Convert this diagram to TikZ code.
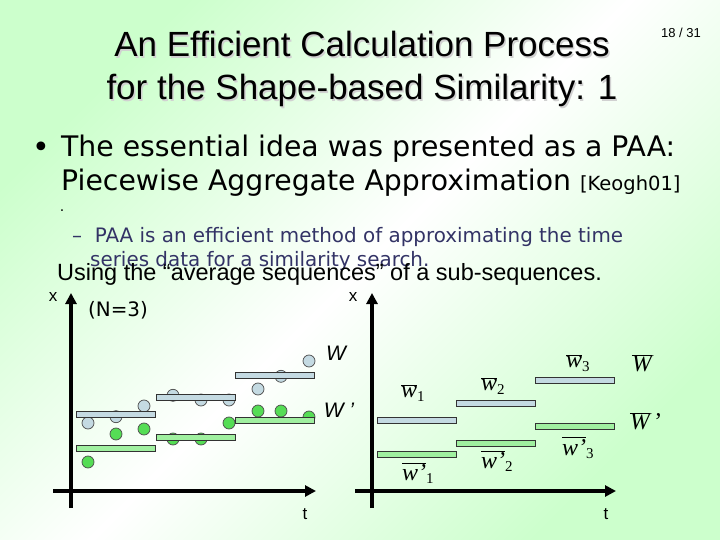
\documentclass[tikz,border=0pt]{standalone}
\usepackage{fontspec}
\setmainfont{Liberation Sans}
\newfontfamily\verdfont{DejaVu Sans}
\newfontfamily\timesfont{Liberation Serif}
\usepackage{xcolor}
\usetikzlibrary{arrows.meta}
\usetikzlibrary{positioning}

\definecolor{bggreen}{RGB}{204,255,204}
\definecolor{barblue}{RGB}{196,218,226}
\definecolor{bargreen}{RGB}{160,240,160}
\definecolor{dotgreen}{RGB}{85,221,85}
\definecolor{subtext}{RGB}{51,51,102}

% Mittelwert mit Querstrich und Index
\newcommand{\avgw}[2]{$\overline{\mbox{\timesfont\itshape #1}}_{\mbox{\timesfont\fontsize{15}{15}\selectfont #2}}$}

\begin{document}
\begin{tikzpicture}
    [x=1pt, y=-1pt,
      % Stil für Achsen
      axis/.style={line width=4pt, -{Triangle[length=11pt,width=11pt]}},
      % Stil für Mittelwert-Balken
      wbar/.style={rectangle, draw=black!80, line width=0.7pt, fill=barblue, minimum height=6pt, minimum width=79.5pt, inner sep=0pt},
      vbar/.style={wbar, fill=bargreen},
      % Stil für Datenpunkte
      wdot/.style={circle, draw=black!70, line width=0.7pt, fill=barblue, minimum size=12pt, inner sep=0pt},
      vdot/.style={wdot, fill=dotgreen},
      % Schriften
      titlefont/.style={font=\fontsize{35}{43}\selectfont, align=center},
      bodyfont/.style={font=\verdfont\fontsize{28.3}{33}\selectfont, anchor=base west, inner sep=0pt},
      subfont/.style={font=\verdfont\fontsize{19.9}{23}\selectfont, text=subtext, anchor=base west, inner sep=0pt},
      axlbl/.style={font=\fontsize{17}{17}\selectfont, inner sep=0pt},
      serlbl/.style={font=\timesfont\fontsize{24}{24}\selectfont, inner sep=0pt}]
    % Hintergrund
    \useasboundingbox (0,0) rectangle (720,540);
    \shade[top color=bggreen, bottom color=bggreen, middle color=white, shading angle=45] (0,0) rectangle (720,540);

    % Titel
    \node[titlefont, text=black!18] (titleshadow) at (363.5,70.5) {An Efficient Calculation Process\\for the Shape-based Similarity: 1};
    \node[titlefont] (title) at (362,69) {An Efficient Calculation Process\\for the Shape-based Similarity: 1};
    \node[font=\fontsize{13}{13}\selectfont] (pagenum) at (681,33) {18 / 31};

    % Text
    \node[bodyfont] (line1) at (61,157) {The essential idea was presented as a PAA:};
    \node[font=\verdfont\fontsize{30}{30}\selectfont, inner sep=0pt] (bullet) at (41,150) {•};
    \node[bodyfont] (line2) at (61,191) {Piecewise Aggregate Approximation {\fontsize{19.5}{19.5}\selectfont[Keogh01]}};
    \node[font=\verdfont\fontsize{14}{14}\selectfont, inner sep=0pt] (dotmark) at (62,211) {.};
    \node[subfont] (sub1) at (72,243) {–\ \ PAA is an efficient method of approximating the time};
    \node[subfont] (sub2) at (90,266) {series data for a similarity search.};
    \node[font=\fontsize{23.5}{28}\selectfont, anchor=base west, inner sep=0pt] (usingline) at (57,280) {Using the “average sequences” of a sub-sequences.};

    % Achsen
    \coordinate (ly0) at (71,508);
    \coordinate (ly1) at (71,293);
    \coordinate (lx0) at (53,491);
    \coordinate (lx1) at (316,491);
    \coordinate (ry0) at (372,508);
    \coordinate (ry1) at (372,293);
    \coordinate (rx0) at (355,491);
    \coordinate (rx1) at (616,491);
    \draw[axis] (ly0) -- (ly1);
    \draw[axis] (lx0) -- (lx1);
    \draw[axis] (ry0) -- (ry1);
    \draw[axis] (rx0) -- (rx1);

    \node[axlbl] (lxlbl) at (53,297) {x};
    \node[axlbl] (ltlbl) at (305,514) {t};
    \node[axlbl] (rxlbl) at (353,297) {x};
    \node[axlbl] (rtlbl) at (606,514) {t};
    \node[font=\verdfont\fontsize{19.9}{23}\selectfont, inner sep=0pt] (nlbl) at (118,310) {(N=3)};

    % Datenpunkte W und W'
    \foreach \px/\py [count=\i] in {88/423,116/416.7,144/406,173/395.3,201/400,229/400,258/389,281/376.3,309/361}
      \node[wdot] (wd\i) at (\px,\py) {};
    \foreach \px/\py [count=\i] in {88/462,116/434,144/429,173/439,201/439,229/423,258/411,281/411,309/417}
      \node[vdot] (vd\i) at (\px,\py) {};

    % Balken links
    \node[wbar] (wb1) at (116,414) {};
    \node[wbar] (wb2) at (196,397) {};
    \node[wbar] (wb3) at (275,375) {};
    \node[vbar] (vb1) at (116,448.5) {};
    \node[vbar] (vb2) at (196,437) {};
    \node[vbar] (vb3) at (275,420) {};
    \node[font=\itshape\fontsize{21}{21}\selectfont, inner sep=0pt] (wlbl) at (336,353) {W};
    \node[font=\itshape\fontsize{21}{21}\selectfont, inner sep=0pt] (vlbl) at (339,410) {W ’};

    % Balken rechts
    \node[wbar] (rwb1) at (417,420.5) {};
    \node[wbar] (rwb2) at (496,403) {};
    \node[wbar] (rwb3) at (575,380) {};
    \node[vbar] (rvb1) at (417,454.5) {};
    \node[vbar] (rvb2) at (496,443) {};
    \node[vbar] (rvb3) at (575,426) {};

    \node[serlbl] (w1) at (413,393) {\avgw{w}{1}};
    \node[serlbl] (w2) at (493,386) {\avgw{w}{2}};
    \node[serlbl] (w3) at (578,363) {\avgw{w}{3}};
    \node[serlbl] (wall) at (642,365) {\avgw{W}{}};
    \node[serlbl] (v1) at (418,473) {\avgw{w’}{1}};
    \node[serlbl] (v2) at (497,461) {\avgw{w’}{2}};
    \node[serlbl] (v3) at (578,448) {\avgw{w’}{3}};
    \node[serlbl] (vall) at (646,423) {\avgw{W}{}\,’};
\end{tikzpicture}
\end{document}
